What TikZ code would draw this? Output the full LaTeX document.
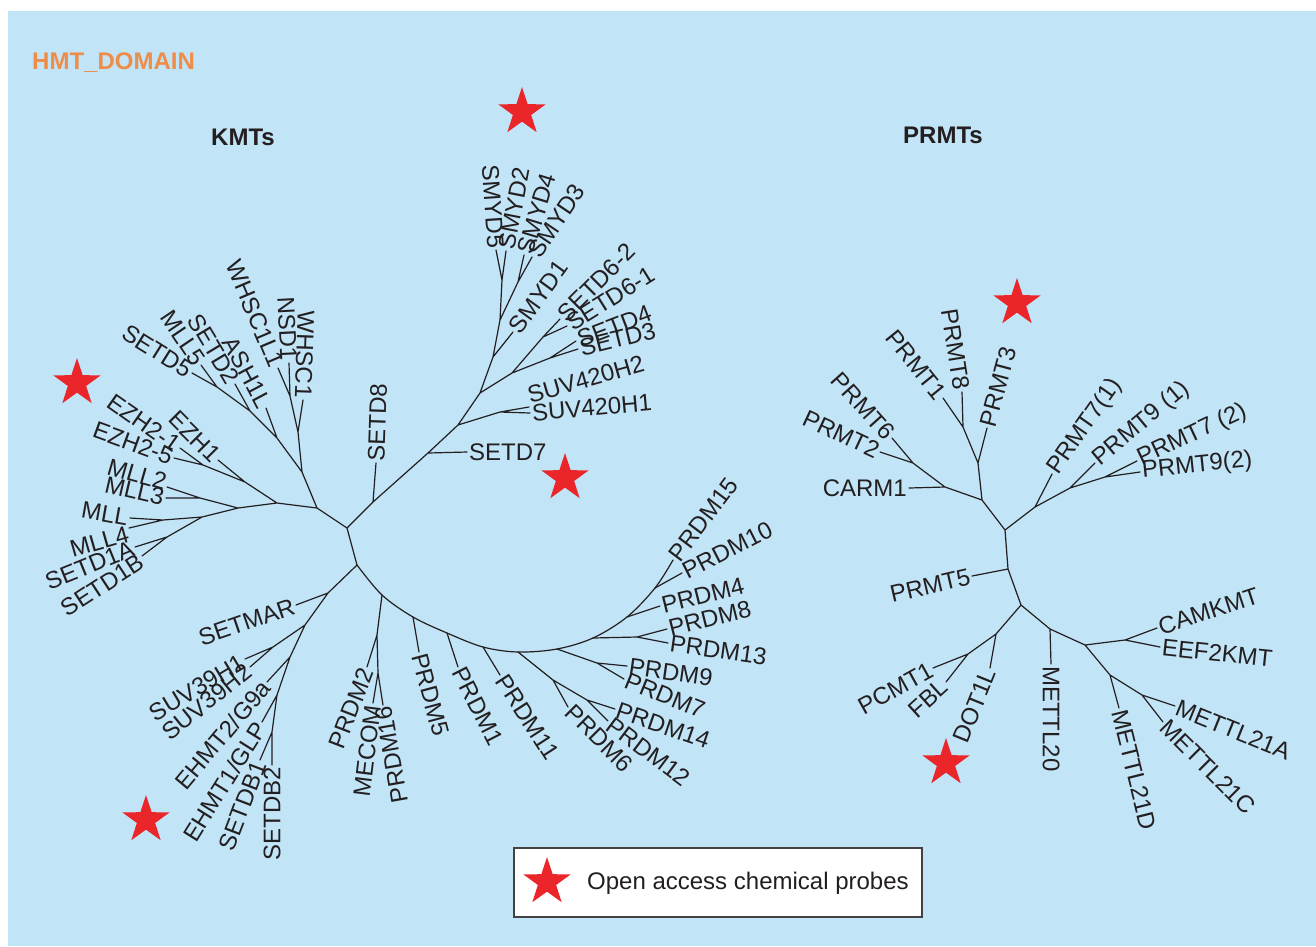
\documentclass[tikz,border=0pt]{standalone}
\usepackage{fontspec}
\setmainfont{Liberation Sans}
\usetikzlibrary{shapes.geometric}
\definecolor{bgblue}{RGB}{194,228,247}
\definecolor{hmtorange}{RGB}{238,140,72}
\definecolor{starred}{RGB}{234,38,42}
\definecolor{ink}{RGB}{35,31,32}
\begin{document}
\begin{tikzpicture}[x=1pt,y=-1pt,
  br/.style={line width=1.2pt, line cap=round, line join=round, draw=ink},
  lbl/.style={font=\fontsize{24}{27}\selectfont, text=ink, inner sep=2pt},
  lab/.style={lbl, anchor=east, rotate=#1},
  rab/.style={lbl, anchor=west, rotate=#1},
  kstar/.style={star, star points=5, star point ratio=2.6, fill=starred, draw=none, minimum size=50pt, inner sep=0pt},
  ttl/.style={font=\bfseries\fontsize{24}{27}\selectfont, inner sep=0pt}]
\useasboundingbox (0,0) rectangle (1316,946);
\fill[white] (0,0) rectangle (1316,946);
\fill[bgblue] (8,11) rectangle (1316,946);

% ---------------- titles
\node[ttl, text=hmtorange, anchor=west] (thmt) at (32,63) {HMT\_DOMAIN};
\node[ttl, text=ink] (tkmt) at (243,137) {KMTs};
\node[ttl, text=ink] (tprmt) at (943,135) {PRMTs};

% ---------------- KMT tree coordinates
\coordinate (A) at (347,528);
\coordinate (B) at (357,565);
\coordinate (L1) at (317,508);
\coordinate (K1) at (302,472);
\coordinate (Nws) at (298,432);
\coordinate (twhsc1) at (303,400);
\coordinate (Nnsd) at (290,396);
\coordinate (tnsd1) at (289,363);
\coordinate (twhsc1l1) at (278,368);
\coordinate (Nash) at (277,438);
\coordinate (tash1l) at (266,408);
\coordinate (Ns2) at (250,411);
\coordinate (tsetd2) at (235,384);
\coordinate (Ns5) at (217,387);
\coordinate (tsetd5) at (192,373);
\coordinate (tmll5) at (201,365);
\coordinate (Ne) at (277,503);
\coordinate (Nez1) at (245,482);
\coordinate (tezh1) at (218,460);
\coordinate (Nez2) at (203,465);
\coordinate (tezh21) at (180,448);
\coordinate (tezh25) at (174,458);
\coordinate (Nm) at (238,508);
\coordinate (Nm23) at (200,498);
\coordinate (tmll2) at (167,487);
\coordinate (tmll3) at (166,498);
\coordinate (Nm4) at (202,517);
\coordinate (Nmll) at (163,520);
\coordinate (tmll) at (130,518);
\coordinate (tmll4) at (129,528);
\coordinate (Nsd1) at (167,537);
\coordinate (tsetd1a) at (135,547);
\coordinate (tsetd1b) at (142,556);
% upper right
\coordinate (N8) at (373,502);
\coordinate (tsetd8) at (376,463);
\coordinate (N7) at (428,453);
\coordinate (tsetd7) at (467,452);
\coordinate (N420) at (458,425);
\coordinate (N420b) at (500,412);
\coordinate (tsuvh1) at (530,413);
\coordinate (tsuvh2) at (529,407);
\coordinate (Nup) at (480,393);
\coordinate (Nsd) at (512,373);
\coordinate (Ns6) at (543,337);
\coordinate (tsetd62) at (560,319);
\coordinate (tsetd61) at (567,326);
\coordinate (Ns34) at (550,358);
\coordinate (tsetd3) at (578,349);
\coordinate (tsetd4) at (576,341);
\coordinate (Nsm1) at (493,357);
\coordinate (tsmyd1) at (513,332);
\coordinate (Nsmy) at (500,320);
\coordinate (Ns52) at (502,280);
\coordinate (tsmyd5) at (496,250);
\coordinate (tsmyd2) at (506,251);
\coordinate (Ns43) at (518,282);
\coordinate (tsmyd4) at (524,255);
\coordinate (tsmyd3) at (532,257);
% lower left
\coordinate (Nsm) at (328,593);
\coordinate (tsetmar) at (296,605);
\coordinate (Nsuv) at (305,625);
\coordinate (Nsuvb) at (273,647);
\coordinate (tsuv1) at (245,659);
\coordinate (tsuv2) at (250,667);
\coordinate (Neh2) at (290,657);
\coordinate (tehmt2) at (267,682);
\coordinate (Neh1) at (277,695);
\coordinate (tehmt1) at (262,722);
\coordinate (Ndb) at (272,732);
\coordinate (tsetdb1) at (260,760);
\coordinate (tsetdb2) at (272,765);
% PRDM arc
\coordinate (p1) at (382,595);
\coordinate (Np2) at (377,635);
\coordinate (tprdm2) at (367,667);
\coordinate (Nmec) at (378,673);
\coordinate (tmecom) at (373,703);
\coordinate (tprdm16) at (383,705);
\coordinate (p2) at (413,617);
\coordinate (tprdm5) at (419,652);
\coordinate (p3) at (447,633);
\coordinate (tprdm1) at (458,667);
\coordinate (p4) at (483,647);
\coordinate (tprdm11) at (500,675);
\coordinate (p5) at (518,652);
\coordinate (N6) at (553,680);
\coordinate (tprdm6) at (568,707);
\coordinate (N1214) at (587,700);
\coordinate (tprdm14) at (615,709);
\coordinate (tprdm12) at (608,721);
\coordinate (p6) at (557,649);
\coordinate (N97) at (597,663);
\coordinate (tprdm9) at (627,666);
\coordinate (tprdm7) at (624,679);
\coordinate (p7) at (593,638);
\coordinate (N813) at (637,637);
\coordinate (tprdm8) at (667,629);
\coordinate (tprdm13) at (668,643);
\coordinate (p8) at (627,617);
\coordinate (tprdm4) at (660,606);
\coordinate (p9) at (655,588);
\coordinate (tprdm10) at (682,573);
\coordinate (tprdm15) at (673,560);

% ---------------- KMT branches
\draw[br] (A) -- (B) (A) -- (L1) (L1) -- (K1) (K1) -- (Nws) (Nws) -- (twhsc1) (Nws) -- (Nnsd)
  (Nnsd) -- (tnsd1) (Nnsd) -- (twhsc1l1) (K1) -- (Nash) (Nash) -- (tash1l) (Nash) -- (Ns2)
  (Ns2) -- (tsetd2) (Ns2) -- (Ns5) (Ns5) -- (tsetd5) (Ns5) -- (tmll5)
  (L1) -- (Ne) (Ne) -- (Nez1) (Nez1) -- (tezh1) (Nez1) -- (Nez2) (Nez2) -- (tezh21) (Nez2) -- (tezh25)
  (Ne) -- (Nm) (Nm) -- (Nm23) (Nm23) -- (tmll2) (Nm23) -- (tmll3) (Nm) -- (Nm4)
  (Nm4) -- (Nmll) (Nmll) -- (tmll) (Nmll) -- (tmll4) (Nm4) -- (Nsd1) (Nsd1) -- (tsetd1a) (Nsd1) -- (tsetd1b);
\draw[br] (A) -- (N8) (N8) -- (tsetd8) (N8) -- (N7) (N7) -- (tsetd7) (N7) -- (N420)
  (N420) -- (N420b) (N420b) -- (tsuvh1) (N420b) -- (tsuvh2) (N420) -- (Nup)
  (Nup) -- (Nsd) (Nsd) -- (Ns6) (Ns6) -- (tsetd62) (Ns6) -- (tsetd61) (Nsd) -- (Ns34)
  (Ns34) -- (tsetd3) (Ns34) -- (tsetd4) (Nup) -- (Nsm1) (Nsm1) -- (tsmyd1) (Nsm1) -- (Nsmy)
  (Nsmy) -- (Ns52) (Ns52) -- (tsmyd5) (Ns52) -- (tsmyd2) (Nsmy) -- (Ns43) (Ns43) -- (tsmyd4) (Ns43) -- (tsmyd3);
\draw[br] (B) -- (Nsm) (Nsm) -- (tsetmar) (Nsm) -- (Nsuv) (Nsuv) -- (Nsuvb) (Nsuvb) -- (tsuv1)
  (Nsuvb) -- (tsuv2) (Nsuv) -- (Neh2) (Neh2) -- (tehmt2) (Neh2) -- (Neh1) (Neh1) -- (tehmt1)
  (Neh1) -- (Ndb) (Ndb) -- (tsetdb1) (Ndb) -- (tsetdb2);
\draw[br] plot[smooth, tension=0.55] coordinates {(B) (p1) (p2) (p3) (p4) (p5) (p6) (p7) (p8) (p9) (tprdm15)};
\draw[br] (p1) -- (Np2) (Np2) -- (tprdm2) (Np2) -- (Nmec) (Nmec) -- (tmecom) (Nmec) -- (tprdm16)
  (p2) -- (tprdm5) (p3) -- (tprdm1) (p4) -- (tprdm11) (p5) -- (N6) (N6) -- (tprdm6) (N6) -- (N1214)
  (N1214) -- (tprdm14) (N1214) -- (tprdm12) (p6) -- (N97) (N97) -- (tprdm9) (N97) -- (tprdm7)
  (p7) -- (N813) (N813) -- (tprdm8) (N813) -- (tprdm13) (p8) -- (tprdm4) (p9) -- (tprdm10);

% ---------------- KMT labels
\node[lab=-32] (lsetd5) at (tsetd5) {SETD5};
\node[lab=-56] (lmll5) at (tmll5) {MLL5};
\node[lab=-59] (lsetd2) at (tsetd2) {SETD2};
\node[lab=-62] (lash1l) at (tash1l) {ASH1L};
\node[lab=-67] (lwhsc1l1) at (twhsc1l1) {WHSC1L1};
\node[lab=-87] (lnsd1) at (tnsd1) {NSD1};
\node[lab=-92] (lwhsc1) at (twhsc1) {WHSC1};
\node[lab=-35] (lezh21) at (tezh21) {EZH2-1};
\node[lab=-45] (lezh1) at (tezh1) {EZH1};
\node[lab=-20] (lezh25) at (tezh25) {EZH2-5};
\node[lab=-16, yshift=4pt] (lmll2) at (tmll2) {MLL2};
\node[lab=-13] (lmll3) at (tmll3) {MLL3};
\node[lab=-10] (lmll) at (tmll) {MLL};
\node[lab=16, yshift=-5pt] (lmll4) at (tmll4) {MLL4};
\node[lab=22] (lsetd1a) at (tsetd1a) {SETD1A};
\node[lab=33, yshift=-3pt] (lsetd1b) at (tsetd1b) {SETD1B};
\node[lab=19] (lsetmar) at (tsetmar) {SETMAR};
\node[lab=31] (lsuv1) at (tsuv1) {SUV39H1};
\node[lab=39] (lsuv2) at (tsuv2) {SUV39H2};
\node[lab=50] (lehmt2) at (tehmt2) {EHMT2/G9a};
\node[lab=58] (lehmt1) at (tehmt1) {EHMT1/GLP};
\node[lab=69] (lsetdb1) at (tsetdb1) {SETDB1};
\node[lab=90] (lsetdb2) at (tsetdb2) {SETDB2};
\node[lab=69] (lprdm2) at (tprdm2) {PRDM2};
\node[lab=83] (lmecom) at (tmecom) {MECOM};
\node[lab=100] (lprdm16) at (tprdm16) {PRDM16};
\node[lab=-86] (lsmyd5) at (tsmyd5) {SMYD5};
\node[rab=88] (lsetd8) at (tsetd8) {SETD8};
\node[rab=0] (lsetd7) at (tsetd7) {SETD7};
\node[rab=5] (lsuvh1) at (tsuvh1) {SUV420H1};
\node[rab=16, yshift=11pt] (lsuvh2) at (tsuvh2) {SUV420H2};
\node[rab=14] (lsetd3) at (tsetd3) {SETD3};
\node[rab=21] (lsetd4) at (tsetd4) {SETD4};
\node[rab=32] (lsetd61) at (tsetd61) {SETD6-1};
\node[rab=45] (lsetd62) at (tsetd62) {SETD6-2};
\node[rab=54] (lsmyd1) at (tsmyd1) {SMYD1};
\node[rab=56] (lsmyd3) at (tsmyd3) {SMYD3};
\node[rab=73] (lsmyd4) at (tsmyd4) {SMYD4};
\node[rab=79] (lsmyd2) at (tsmyd2) {SMYD2};
\node[rab=-75] (lprdm5) at (tprdm5) {PRDM5};
\node[rab=-63] (lprdm1) at (tprdm1) {PRDM1};
\node[rab=-57] (lprdm11) at (tprdm11) {PRDM11};
\node[rab=-45] (lprdm6) at (tprdm6) {PRDM6};
\node[rab=-37] (lprdm12) at (tprdm12) {PRDM12};
\node[rab=-19] (lprdm14) at (tprdm14) {PRDM14};
\node[rab=-22] (lprdm7) at (tprdm7) {PRDM7};
\node[rab=-8] (lprdm9) at (tprdm9) {PRDM9};
\node[rab=-8] (lprdm13) at (tprdm13) {PRDM13};
\node[rab=14] (lprdm8) at (tprdm8) {PRDM8};
\node[rab=14] (lprdm4) at (tprdm4) {PRDM4};
\node[rab=27] (lprdm10) at (tprdm10) {PRDM10};
\node[rab=53] (lprdm15) at (tprdm15) {PRDM15};

% ---------------- PRMT tree coordinates
\coordinate (P1) at (1005,530);
\coordinate (Pl) at (982,500);
\coordinate (Pn3) at (978,463);
\coordinate (tprmt3) at (987,428);
\coordinate (Pn18) at (963,427);
\coordinate (tprmt1) at (943,398);
\coordinate (tprmt8) at (962,392);
\coordinate (Pc) at (945,487);
\coordinate (tcarm1) at (909,488);
\coordinate (Pn26) at (913,463);
\coordinate (tprmt6) at (892,438);
\coordinate (tprmt2) at (880,452);
\coordinate (Pr) at (1035,507);
\coordinate (tprmt71) at (1052,474);
\coordinate (Pr2) at (1070,488);
\coordinate (tprmt91) at (1095,463);
\coordinate (Pr3) at (1105,477);
\coordinate (tprmt72) at (1137,461);
\coordinate (tprmt92) at (1140,472);
\coordinate (P5) at (1008,569);
\coordinate (tprmt5) at (972,576);
\coordinate (P3) at (1021,605);
\coordinate (Pd) at (996,634);
\coordinate (tdot1l) at (990,668);
\coordinate (Pf) at (968,654);
\coordinate (tpcmt1) at (933,668);
\coordinate (tfbl) at (946,682);
\coordinate (Pm20) at (1050,629);
\coordinate (tmettl20) at (1051,664);
\coordinate (Pm) at (1085,645);
\coordinate (Pce) at (1125,640);
\coordinate (tcamkmt) at (1157,628);
\coordinate (teef2kmt) at (1160,647);
\coordinate (Pm21) at (1110,675);
\coordinate (tmettl21d) at (1119,708);
\coordinate (Pm21b) at (1142,695);
\coordinate (tmettl21a) at (1175,706);
\coordinate (tmettl21c) at (1163,722);

\draw[br] (P1) -- (Pl) (Pl) -- (Pn3) (Pn3) -- (tprmt3) (Pn3) -- (Pn18) (Pn18) -- (tprmt1) (Pn18) -- (tprmt8)
  (Pl) -- (Pc) (Pc) -- (tcarm1) (Pc) -- (Pn26) (Pn26) -- (tprmt6) (Pn26) -- (tprmt2)
  (P1) -- (Pr) (Pr) -- (tprmt71) (Pr) -- (Pr2) (Pr2) -- (tprmt91) (Pr2) -- (Pr3) (Pr3) -- (tprmt72) (Pr3) -- (tprmt92)
  (P1) -- (P5) (P5) -- (tprmt5) (P5) -- (P3) (P3) -- (Pd) (Pd) -- (tdot1l) (Pd) -- (Pf) (Pf) -- (tpcmt1) (Pf) -- (tfbl)
  (P3) -- (Pm20) (Pm20) -- (tmettl20) (Pm20) -- (Pm) (Pm) -- (Pce) (Pce) -- (tcamkmt) (Pce) -- (teef2kmt)
  (Pm) -- (Pm21) (Pm21) -- (tmettl21d) (Pm21) -- (Pm21b) (Pm21b) -- (tmettl21a) (Pm21b) -- (tmettl21c);

\node[lab=0] (lcarm1) at (tcarm1) {CARM1};
\node[lab=-25] (lprmt2) at (tprmt2) {PRMT2};
\node[lab=-48] (lprmt6) at (tprmt6) {PRMT6};
\node[lab=-51] (lprmt1) at (tprmt1) {PRMT1};
\node[lab=-81] (lprmt8) at (tprmt8) {PRMT8};
\node[rab=75] (lprmt3) at (tprmt3) {PRMT3};
\node[rab=55] (lprmt71) at (tprmt71) {PRMT7(1)};
\node[rab=40] (lprmt91) at (tprmt91) {PRMT9 (1)};
\node[rab=25] (lprmt72) at (tprmt72) {PRMT7 (2)};
\node[rab=6] (lprmt92) at (tprmt92) {PRMT9(2)};
\node[lab=13] (lprmt5) at (tprmt5) {PRMT5};
\node[lab=29] (lpcmt1) at (tpcmt1) {PCMT1};
\node[lab=42] (lfbl) at (tfbl) {FBL};
\node[lab=68] (ldot1l) at (tdot1l) {DOT1L};
\node[rab=-90] (lmettl20) at (tmettl20) {METTL20};
\node[rab=-76] (lmettl21d) at (tmettl21d) {METTL21D};
\node[rab=-45] (lmettl21c) at (tmettl21c) {METTL21C};
\node[rab=-22] (lmettl21a) at (tmettl21a) {METTL21A};
\node[rab=-6] (leef2kmt) at (teef2kmt) {EEF2KMT};
\node[rab=18] (lcamkmt) at (tcamkmt) {CAMKMT};

% ---------------- stars
\node[kstar] (s1) at (522,112) {};
\node[kstar] (s2) at (565,478) {};
\node[kstar] (s3) at (77,383) {};
\node[kstar] (s4) at (146,820) {};
\node[kstar] (s5) at (1017,303) {};
\node[kstar] (s6) at (946,763) {};

% ---------------- legend
\node[draw=ink!85, fill=white, line width=1.2pt, minimum width=408pt, minimum height=69pt, inner sep=0pt] (legend) at (718,882.5) {};
\node[kstar] (ls) at (547,882) {};
\node[lbl, font=\fontsize{24}{28}\selectfont, anchor=west] (lt) at (585,883) {Open access chemical probes};
\end{tikzpicture}
\end{document}
